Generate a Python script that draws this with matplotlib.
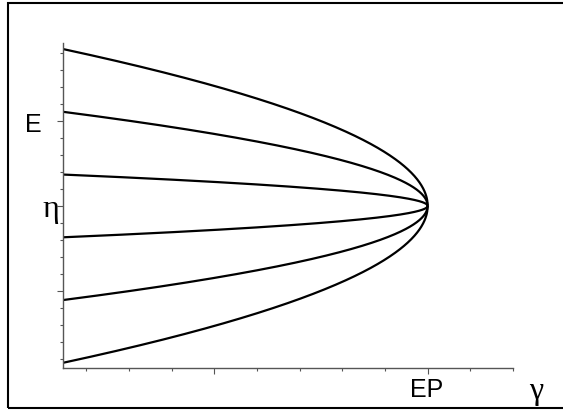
import numpy as np
import matplotlib.pyplot as plt
from matplotlib.patches import Rectangle
from matplotlib.ticker import MultipleLocator

# branch coefficients: E = eta + k*sqrt(EP - gamma)
coeffs = [1.0, 0.6, 0.2, -0.2, -0.6, -1.0]
gamma_ep = 1.0
eta = 0.0
gamma_min, gamma_max = 0.1455, 1.2

plt.rcParams['font.family'] = ['Liberation Sans', 'DejaVu Sans']

fig = plt.figure(figsize=(5.63, 4.12), dpi=100)
W, H = 563, 412
ax = fig.add_axes([63 / W, 1 - 368 / H, 450 / W, 325 / H])

gamma = np.linspace(gamma_min, gamma_ep, 800)
for k in coeffs:
    ax.plot(gamma, eta + k * np.sqrt(gamma_ep - gamma), color='black', lw=1.6,
            solid_capstyle='butt')

ax.set_xlim(gamma_min, gamma_max)
ax.set_ylim(-0.955, 0.96)

for s in ['top', 'right']:
    ax.spines[s].set_visible(False)
for s in ['left', 'bottom']:
    ax.spines[s].set_color('#555555')
    ax.spines[s].set_linewidth(1.0)

ax.xaxis.set_major_locator(MultipleLocator(0.5))
ax.xaxis.set_minor_locator(MultipleLocator(0.1))
ax.yaxis.set_major_locator(MultipleLocator(0.5))
ax.yaxis.set_minor_locator(MultipleLocator(0.1))
ax.tick_params(which='major', length=4, width=0.8, color='#555555',
               labelbottom=False, labelleft=False)
ax.tick_params(which='minor', length=2, width=0.8, color='#555555')

# axis annotations
greek = ['Liberation Serif', 'DejaVu Serif']
fig.text(33 / W, 1 - 125 / H, 'E', fontsize=18, ha='center', va='center')
fig.text(51 / W, 1 - 209 / H, 'η', fontsize=23, ha='center', va='center',
         family=greek)
fig.text(427 / W, 1 - 390 / H, 'EP', fontsize=18, ha='center', va='center')
fig.text(536 / W, 1 - 391 / H, 'γ', fontsize=23, ha='center', va='center',
         family=greek)

# frame around the figure
fig.patches.append(Rectangle((8 / W, 1 - 408 / H), 600 / W, 405 / H,
                             transform=fig.transFigure, fill=False,
                             edgecolor='black', lw=1.5))

fig.savefig('out.png', dpi=100)
